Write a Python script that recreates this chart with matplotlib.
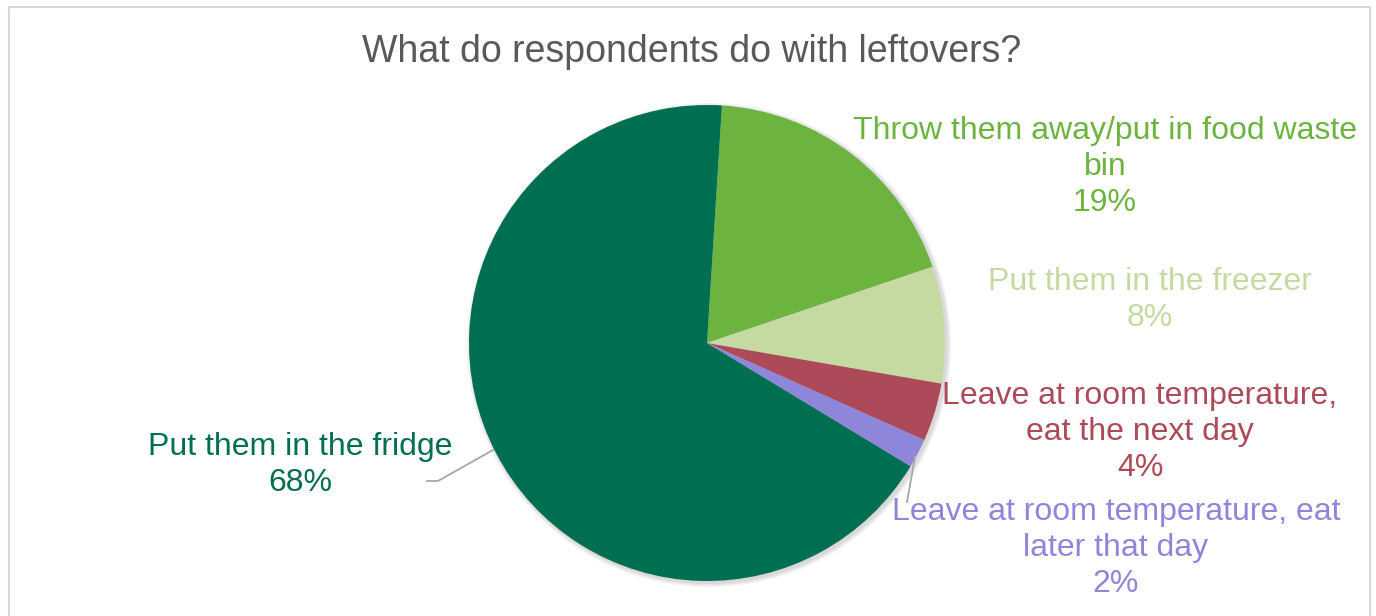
import matplotlib.pyplot as plt
from matplotlib.patches import Circle, Rectangle

plt.rcParams['font.family'] = ['Liberation Sans', 'DejaVu Sans']

# answers, in drawing order (clockwise from just right of 12 o'clock)
labels = ["Throw them away/put in food waste\nbin",
          "Put them in the freezer",
          "Leave at room temperature,\neat the next day",
          "Leave at room temperature, eat\nlater that day",
          "Put them in the fridge"]
shares = [19, 8, 4, 2, 68]
colors = ["#6DB33F", "#C5DAA0", "#AD4A5A", "#8E86DB", "#006E51"]

W, H = 1376, 616
fig = plt.figure(figsize=(W / 100, H / 100), dpi=100)
ax = fig.add_axes([0, 0, 1, 1])

cx, cy, r = 707, H - 343, 238

# soft shadow behind the pie
for k, a in enumerate([0.05, 0.05, 0.05]):
    ax.add_patch(Circle((cx + 2, cy - 2), r + 1 + k * 1.5, color="#000000",
                        alpha=a, lw=0, zorder=0))

ax.pie(shares, colors=colors, startangle=86.4, counterclock=False,
       center=(cx, cy), radius=r, frame=True,
       wedgeprops=dict(linewidth=0, zorder=1))

# label positions (centre of the text block) in pixels from top-left
label_pos = [(1105, 167), (1150, 300), (1140, 432), (1116, 548), (300, 465)]
for lab, val, col, (x, y) in zip(labels, shares, colors, label_pos):
    ax.text(x, H - y, f"{lab}\n{val}%", color=col, fontsize=23,
            ha="center", va="center", linespacing=1.28, zorder=3)

# leader lines
ax.plot([493, 438, 427], [H - 450, H - 481, H - 481], color="#A6A6A6", lw=1.3, zorder=2)
ax.plot([915, 907], [H - 457, H - 502], color="#A6A6A6", lw=1.3, zorder=2)

ax.text(692, H - 52, "What do respondents do with leftovers?", color="#595959",
        fontsize=27, ha="center", va="center")

# chart frame
ax.add_patch(Rectangle((9, -5), 1361, H - 7 + 5, fill=False, ec="#D9D9D9", lw=1.5))

ax.set_xlim(0, W)
ax.set_ylim(0, H)
ax.set_aspect("equal")
ax.axis("off")

fig.savefig("out.png", dpi=100)
